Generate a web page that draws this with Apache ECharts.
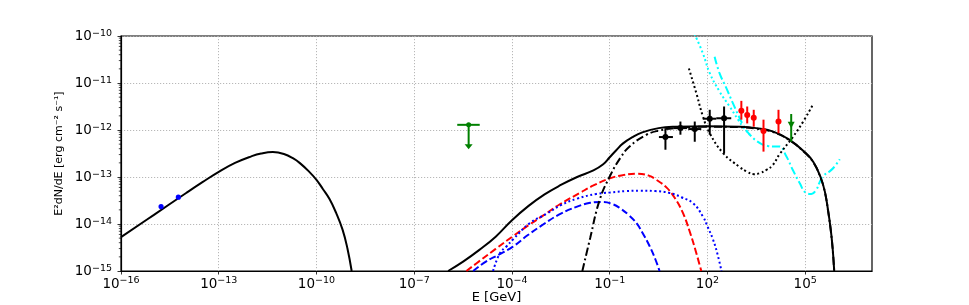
<!DOCTYPE html>
<html><head><meta charset="utf-8">
<script src="https://cdn.jsdelivr.net/npm/echarts@6/dist/echarts.min.js"></script>
<style>html,body{margin:0;padding:0;background:#fff}#c{width:969px;height:305px}</style>
</head><body><div id="c"></div>
<script>
// ---- axis definition (log10 exponents) ----
const X_MIN_EXP = -16;
const X_MAX_EXP = 7.05;
const Y_MIN_EXP = -15;
const Y_MAX_EXP = -10;
const xTickExp = [-16, -13, -10, -7, -4, -1, 2, 5];
const yTickExp = [-15, -14, -13, -12, -11, -10];

// ---- model curves: log10(E/GeV), log10(E^2 dN/dE) ----
const synchE = [-16, -15, -14, -13.5, -13, -12.5, -12, -11.7, -11.34, -11, -10.7, -10.5, -10.25, -10, -9.8, -9.6, -9.4, -9.2, -9.05, -8.92];
const synchF = [-14.28, -13.81, -13.34, -13.11, -12.89, -12.70, -12.56, -12.50, -12.47, -12.51, -12.61, -12.71, -12.87, -13.06, -13.26, -13.47, -13.76, -14.12, -14.52, -15.0];

const totalE = [-5.96, -5.5, -5.0, -4.5, -4.0, -3.5, -3.0, -2.5, -2.0, -1.5, -1.2, -1.0, -0.8, -0.6, -0.3, 0, 0.5, 1, 2, 3, 3.5, 4.0, 4.5, 5.0, 5.25, 5.47, 5.6, 5.7, 5.78, 5.84, 5.89];
const totalF = [-15.0, -14.8, -14.55, -14.27, -13.92, -13.62, -13.37, -13.17, -13.0, -12.86, -12.73, -12.58, -12.43, -12.29, -12.15, -12.05, -11.96, -11.93, -11.92, -11.93, -11.96, -12.03, -12.2, -12.48, -12.68, -13.0, -13.3, -13.7, -14.1, -14.5, -15.0];

const pionE = [-1.84, -1.6, -1.31, -1.0, -0.66, -0.39, 0.13, 0.53, 1.0, 2, 3, 3.5, 4.0, 4.5, 5.0, 5.25, 5.47, 5.6, 5.7, 5.78, 5.84, 5.89];
const pionF = [-15.0, -14.3, -13.49, -12.99, -12.58, -12.35, -12.1, -12.01, -11.96, -11.93, -11.94, -11.97, -12.04, -12.21, -12.49, -12.69, -13.01, -13.31, -13.71, -14.11, -14.51, -15.0];

const redDashE = [-5.4, -5.0, -4.5, -3.97, -3.5, -3.0, -2.53, -1.92, -1.5, -1.0, -0.6, -0.18, 0.2, 0.43, 0.74, 1.0, 1.25, 1.45, 1.65, 1.81];
const redDashF = [-15.0, -14.79, -14.53, -14.26, -14.03, -13.8, -13.58, -13.34, -13.18, -13.03, -12.96, -12.93, -12.97, -13.06, -13.22, -13.45, -13.77, -14.15, -14.6, -15.0];

const blueDashE = [-5.19, -4.8, -4.4, -3.97, -3.5, -3.0, -2.53, -2.0, -1.6, -1.2, -0.9, -0.69, -0.4, -0.18, 0.0, 0.23, 0.4, 0.53];
const blueDashF = [-15.0, -14.8, -14.65, -14.48, -14.23, -13.99, -13.79, -13.63, -13.55, -13.53, -13.58, -13.66, -13.82, -13.98, -14.18, -14.48, -14.75, -15.0];

const blueDotE = [-4.58, -4.37, -4.17, -3.97, -3.45, -2.93, -2.5, -2.0, -1.41, -1.0, -0.5, -0.08, 0.4, 0.84, 1.2, 1.56, 1.86, 2.0, 2.17, 2.3, 2.43];
const blueDotF = [-15.0, -14.62, -14.48, -14.33, -13.98, -13.78, -13.6, -13.46, -13.36, -13.33, -13.3, -13.29, -13.3, -13.34, -13.43, -13.56, -13.84, -14.05, -14.33, -14.62, -15.0];

const cyanDotE = [1.6, 1.86, 2.07, 2.37, 2.68, 2.94, 3.09, 3.3];
const cyanDotF = [-9.95, -10.37, -10.79, -11.18, -11.50, -11.78, -11.93, -12.1];

const cyanDashE = [2.22, 2.37, 2.58, 2.78, 2.99, 3.1, 3.3, 3.61, 3.85, 4.01, 4.21, 4.42, 4.62, 4.83, 5.03, 5.19, 5.34, 5.45, 5.55, 5.75, 5.9, 6.06];
const cyanDashF = [-10.44, -10.79, -11.11, -11.43, -11.75, -11.9, -12.1, -12.28, -12.34, -12.35, -12.35, -12.56, -12.85, -13.13, -13.34, -13.36, -13.27, -13.1, -12.98, -12.88, -12.78, -12.62];

const sensE = [1.43, 1.66, 1.86, 2.07, 2.48, 2.99, 3.2, 3.43, 3.6, 3.81, 4.0, 4.21, 4.62, 4.93, 5.22];
const sensF = [-10.69, -11.22, -11.71, -12.07, -12.49, -12.79, -12.88, -12.94, -12.92, -12.85, -12.75, -12.52, -12.15, -11.83, -11.48];

// ---- data points ----
// [logE, logF, logE_lo, logE_hi, logF_lo, logF_hi]
const radioPts = [[-14.77, -13.63, -14.77, -14.77, -13.66, -13.60], [-14.24, -13.43, -14.24, -14.24, -13.46, -13.40]];
const fermiPts = [[0.71, -12.15, 0.51, 0.94, -12.42, -11.96], [1.17, -11.96, 0.97, 1.37, -12.10, -11.82], [1.61, -11.98, 1.41, 1.81, -12.25, -11.82], [2.07, -11.76, 1.86, 2.27, -12.10, -11.57], [2.51, -11.75, 2.27, 2.73, -12.49, -11.50]];
const tevPts = [[3.04, -11.59, 3.04, 3.04, -11.78, -11.38], [3.22, -11.68, 3.22, 3.22, -11.86, -11.50], [3.42, -11.74, 3.42, 3.42, -11.93, -11.57], [3.72, -12.02, 3.72, 3.72, -12.46, -11.78], [4.18, -11.82, 4.18, 4.18, -12.07, -11.57]];
const greenPt = [[4.57, -11.89, 4.57, 4.57, -12.25, -11.66]];
// [logE, logF, logE_lo, logE_hi, logF_arrowTip]
const upperLimit = [[-5.33, -11.89, -5.68, -4.99, -12.41]];

// ---- helpers ----
const sx = e => e - X_MIN_EXP;
const pairs = (E, F) => E.map((e, i) => [sx(e), F[i]]);
const shiftPts = arr => arr.map(p => [sx(p[0]), p[1], sx(p[2]), sx(p[3]), p[4], p[5]]);
const minus = '\u2212';
const supLabel = exp => '{b|10}{s|' + (exp < 0 ? minus + Math.abs(exp) : String(exp)) + '}';

const FONT = 'DejaVu Sans';
const rich = {
  b: {fontFamily: FONT, fontSize: 13.5, color: '#000', lineHeight: 15, verticalAlign: 'bottom'},
  s: {fontFamily: FONT, fontSize: 9.5, color: '#000', lineHeight: 9, verticalAlign: 'top'}
};

function lineSeries(E, F, color, type, width) {
  return {
    type: 'line', data: pairs(E, F), showSymbol: false, symbol: 'none',
    smooth: 0.45, clip: true, silent: true, z: 3,
    lineStyle: {color: color, width: width || 2, type: type || 'solid', cap: 'butt'}
  };
}

function errSeries(pts, color, markerType) {
  return {
    type: 'custom', coordinateSystem: 'cartesian2d', data: shiftPts(pts), z: 6, silent: true,
    renderItem: function (params, api) {
      const c = api.coord([api.value(0), api.value(1)]);
      const xl = api.coord([api.value(2), api.value(1)]);
      const xh = api.coord([api.value(3), api.value(1)]);
      const yl = api.coord([api.value(0), api.value(4)]);
      const yh = api.coord([api.value(0), api.value(5)]);
      const st = {stroke: color, lineWidth: 2};
      const ch = [];
      if (Math.abs(xh[0] - xl[0]) > 0.5) ch.push({type: 'line', shape: {x1: xl[0], y1: c[1], x2: xh[0], y2: c[1]}, style: st});
      ch.push({type: 'line', shape: {x1: c[0], y1: yl[1], x2: c[0], y2: yh[1]}, style: st});
      if (markerType === 'tri') {
        ch.push({type: 'polygon', shape: {points: [[c[0] - 3.5, c[1] - 3], [c[0] + 3.5, c[1] - 3], [c[0], c[1] + 3.5]]}, style: {fill: color}});
      } else {
        ch.push({type: 'circle', shape: {cx: c[0], cy: c[1], r: markerType === 'small' ? 2.6 : 3}, style: {fill: color}});
      }
      return {type: 'group', children: ch};
    }
  };
}

const ulSeries = {
  type: 'custom', coordinateSystem: 'cartesian2d', z: 6, silent: true,
  data: upperLimit.map(p => [sx(p[0]), p[1], sx(p[2]), sx(p[3]), p[4]]),
  renderItem: function (params, api) {
    const c = api.coord([api.value(0), api.value(1)]);
    const xl = api.coord([api.value(2), api.value(1)]);
    const xh = api.coord([api.value(3), api.value(1)]);
    const tip = api.coord([api.value(0), api.value(4)]);
    const col = '#008000';
    return {type: 'group', children: [
      {type: 'line', shape: {x1: xl[0], y1: c[1], x2: xh[0], y2: c[1]}, style: {stroke: col, lineWidth: 2}},
      {type: 'line', shape: {x1: c[0], y1: c[1], x2: c[0], y2: tip[1] - 4}, style: {stroke: col, lineWidth: 2}},
      {type: 'polygon', shape: {points: [[c[0] - 4, tip[1] - 5], [c[0] + 4, tip[1] - 5], [c[0], tip[1]]]}, style: {fill: col}},
      {type: 'circle', shape: {cx: c[0], cy: c[1], r: 2.5}, style: {fill: col}}
    ]};
  }
};

// minor ticks on the log y axis (k * 10^n, k = 2..9)
const minorY = [];
for (let d = Y_MIN_EXP; d < Y_MAX_EXP; d++) for (let k = 2; k <= 9; k++) minorY.push([0, d + Math.log10(k)]);
const minorTickSeries = {
  type: 'custom', coordinateSystem: 'cartesian2d', data: minorY, silent: true, z: 7,
  renderItem: function (params, api) {
    const p = api.coord([api.value(0), api.value(1)]);
    return {type: 'line', shape: {x1: p[0] - 2.2, y1: p[1], x2: p[0], y2: p[1]}, style: {stroke: '#000', lineWidth: 0.7}};
  }
};

const chart = echarts.init(document.getElementById('c'), null, {renderer: 'canvas'});
chart.setOption({
  animation: false,
  backgroundColor: '#fff',
  grid: {left: 121, right: 97, top: 36, bottom: 34, containLabel: false, outerBoundsMode: 'none',
         show: true, borderColor: '#000', borderWidth: 1.2, backgroundColor: 'transparent'},
  xAxis: {
    type: 'value', min: 0, max: sx(X_MAX_EXP), interval: 3,
    name: 'E [GeV]', nameLocation: 'middle', nameGap: 20, nameMoveOverlap: false,
    nameTextStyle: {fontFamily: FONT, fontSize: 13, color: '#000'},
    axisLine: {show: true, lineStyle: {color: '#000', width: 1.2}},
    axisTick: {show: true, length: 3.5, lineStyle: {color: '#000', width: 0.8}, customValues: xTickExp.map(sx)},
    axisLabel: {
      margin: 5, rich: rich, customValues: xTickExp.map(sx),
      formatter: v => {
        const e = Math.round(v + X_MIN_EXP);
        if (Math.abs(v + X_MIN_EXP - e) > 1e-6 || xTickExp.indexOf(e) < 0) return '';
        return supLabel(e);
      }
    },
    splitLine: {show: true, lineStyle: {color: '#b0b0b0', width: 0.9, type: [1.2, 1.8]}}
  },
  yAxis: {
    type: 'value', min: Y_MIN_EXP, max: Y_MAX_EXP, interval: 1,
    name: 'E\u00B2dN/dE [erg cm\u207B\u00B2 s\u207B\u00B9]', nameLocation: 'middle', nameGap: 56, nameRotate: 90, nameMoveOverlap: false,
    nameTextStyle: {fontFamily: FONT, fontSize: 11, color: '#000'},
    axisLine: {show: true, lineStyle: {color: '#000', width: 1.2}},
    axisTick: {show: true, length: 3.5, lineStyle: {color: '#000', width: 0.8}},
    axisLabel: {
      margin: 9, rich: rich,
      formatter: v => {
        const e = Math.round(v);
        if (yTickExp.indexOf(e) < 0) return '';
        return supLabel(e);
      }
    },
    splitLine: {show: true, lineStyle: {color: '#b0b0b0', width: 0.9, type: [1.2, 1.8]}}
  },
  series: [
    lineSeries(synchE, synchF, '#000', 'solid', 2),
    lineSeries(redDashE, redDashF, '#ff0000', [7, 3], 2),
    lineSeries(blueDashE, blueDashF, '#0000ff', [7, 3], 2),
    lineSeries(blueDotE, blueDotF, '#0000ff', [2, 2.6], 2),
    lineSeries(cyanDotE, cyanDotF, '#00ffff', [2, 2.6], 2),
    lineSeries(cyanDashE, cyanDashF, '#00ffff', [8, 3, 2, 3], 2),
    lineSeries(sensE, sensF, '#000', [2, 2.6], 2),
    lineSeries(pionE, pionF, '#000', [8, 3, 2, 3], 2),
    lineSeries(totalE, totalF, '#000', 'solid', 2),
    errSeries(radioPts, '#0000ff', 'small'),
    errSeries(fermiPts, '#000', 'circle'),
    errSeries(tevPts, '#ff0000', 'circle'),
    errSeries(greenPt, '#008000', 'tri'),
    ulSeries,
    minorTickSeries
  ]
});
</script>
</body></html>
